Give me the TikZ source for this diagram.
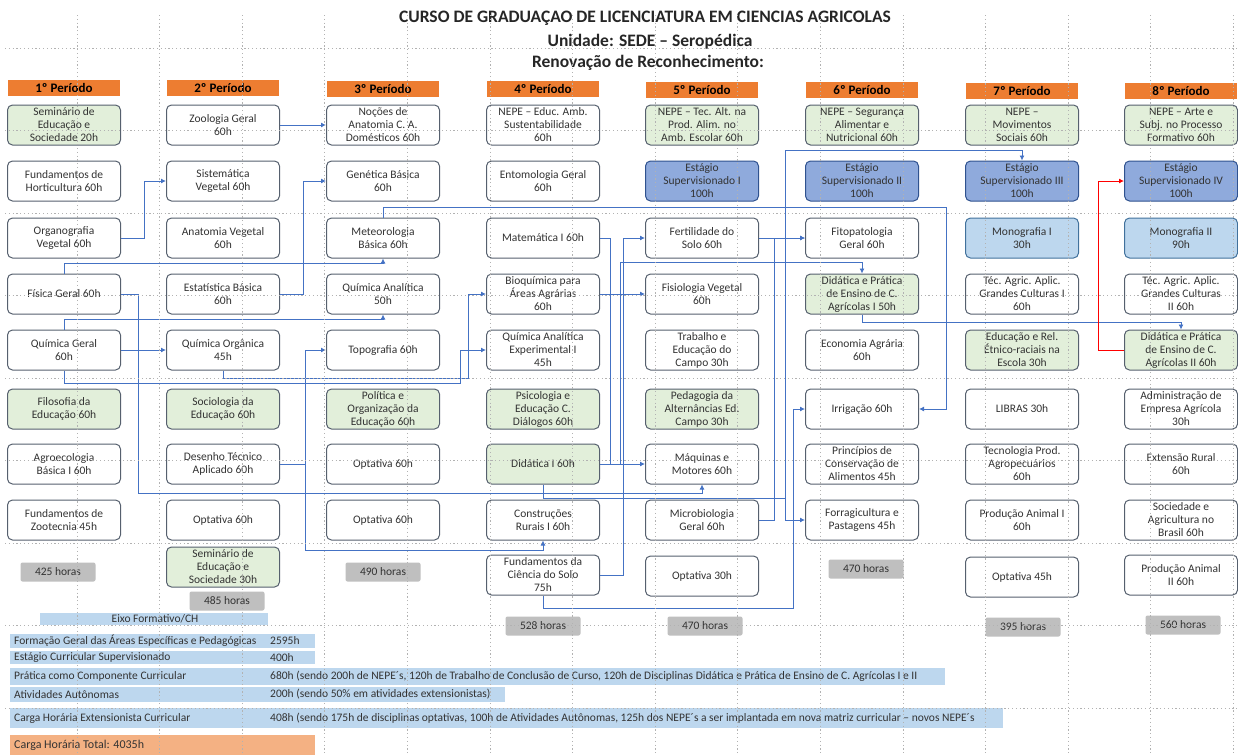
\documentclass[tikz,border=0pt]{standalone}
\usepackage{fontspec}
\setmainfont{Carlito}
\usetikzlibrary{arrows.meta}
\definecolor{laranja}{HTML}{ED7D31}
\definecolor{laranjaclaro}{HTML}{F4B183}
\definecolor{verdeclaro}{HTML}{E2EFDA}
\definecolor{borda}{HTML}{56606E}
\definecolor{azulest}{HTML}{8FAADC}
\definecolor{azulborda}{HTML}{2F528F}
\definecolor{azulclaro}{HTML}{BDD7EE}
\definecolor{azulmono}{HTML}{41719C}
\definecolor{azulfaixa}{HTML}{BDD7EE}
\definecolor{azullinha}{HTML}{4472C4}
\definecolor{cinza}{HTML}{BFBFBF}
\begin{document}
\begin{tikzpicture}[x=1pt,y=-1pt,
    caixa/.style={draw=borda, fill=white, line width=1pt, rounded corners=5pt, minimum width=113pt, minimum height=40pt, inner sep=1pt, align=center, text=black!80, font=\fontsize{11.5}{13}\selectfont},
    verde/.style={caixa, fill=verdeclaro},
    estagio/.style={caixa, fill=azulest, draw=azulborda},
    mono/.style={caixa, fill=azulclaro, draw=azulmono},
    periodo/.style={fill=laranja, minimum width=112pt, minimum height=16pt, inner sep=0pt, font=\bfseries\fontsize{13}{14}\selectfont},
    horas/.style={fill=cinza, rounded corners=2pt, minimum width=75pt, minimum height=19pt, inner sep=0pt, text=black!80, font=\fontsize{11.5}{12}\selectfont},
    titulo/.style={font=\bfseries\fontsize{17.5}{19}\selectfont, text=black!85},
    tabela/.style={anchor=west, inner sep=0pt, text=black!80, font=\fontsize{11.5}{12}\selectfont},
    seta/.style={azullinha, line width=0.9pt, -{Latex[length=5pt,width=5pt]}},
    grade/.style={gray!60, line width=0.7pt, dash pattern=on 1.2pt off 2.6pt}]
  \useasboundingbox (0,0) rectangle (1238,755);

  % Titulo
  \node[titulo] (tit1) at (645,18) {CURSO DE GRADUAÇAO DE LICENCIATURA EM CIENCIAS AGRICOLAS};
  \node[titulo] (tit2) at (650,42) {Unidade: SEDE – Seropédica};
  \node[titulo] (tit3) at (648,63) {Renovação de Reconhecimento:};

  % Periodos
  \node[periodo] (p1) at (64,88) {1º Período};
  \node[periodo] (p2) at (223,88) {2º Período};
  \node[periodo] (p3) at (383,89) {3º Período};
  \node[periodo] (p4) at (543,89) {4º Período};
  \node[periodo] (p5) at (702,90) {5º Período};
  \node[periodo] (p6) at (862,90) {6º Período};
  \node[periodo] (p7) at (1022,91) {7º Período};
  \node[periodo] (p8) at (1181,91) {8º Período};

  % 1º periodo
  \node[verde] (sem1) at (64,125) {Seminário de\\Educação e\\Sociedade 20h};
  \node[caixa] (horti) at (64,181) {Fundamentos de\\Horticultura 60h};
  \node[caixa] (organo) at (64,238) {Organografia\\Vegetal 60h};
  \node[caixa] (fisica) at (64,294) {Física Geral 60h};
  \node[caixa] (qgeral) at (64,350) {Química Geral\\60h};
  \node[verde] (filo) at (64,409) {Filosofia da\\Educação 60h};
  \node[caixa] (agroeco) at (64,464) {Agroecologia\\Básica I 60h};
  \node[caixa] (zootec) at (64,520) {Fundamentos de\\Zootecnia 45h};
  \node[horas] (h1) at (58,572) {425 horas};

  % 2º periodo
  \node[caixa] (zoo) at (223,125) {Zoologia Geral\\60h};
  \node[caixa] (sistem) at (223,181) {Sistemática\\Vegetal 60h};
  \node[caixa] (anatveg) at (223,238) {Anatomia Vegetal\\60h};
  \node[caixa] (estat) at (223,294) {Estatística Básica\\60h};
  \node[caixa] (qorg) at (223,350) {Química Orgânica\\45h};
  \node[verde] (socio) at (223,409) {Sociologia da\\Educação 60h};
  \node[caixa] (desenho) at (223,464) {Desenho Técnico\\Aplicado 60h};
  \node[caixa] (opt2) at (223,520) {Optativa 60h};
  \node[verde] (sem2) at (223,567) {Seminário de\\Educação e\\Sociedade 30h};
  \node[horas] (h2) at (227,601) {485 horas};

  % 3º periodo
  \node[caixa] (nocoes) at (383,125) {Noções de\\Anatomia C. A.\\Domésticos 60h};
  \node[caixa] (genet) at (383,181) {Genética Básica\\60h};
  \node[caixa] (meteo) at (383,238) {Meteorologia\\Básica 60h};
  \node[caixa] (qanal) at (383,294) {Química Analítica\\50h};
  \node[caixa] (topo) at (383,350) {Topografia 60h};
  \node[verde] (politica) at (383,409) {Política e\\Organização da\\Educação 60h};
  \node[caixa] (opt3a) at (383,464) {Optativa 60h};
  \node[caixa] (opt3b) at (383,520) {Optativa 60h};
  \node[horas] (h3) at (383,572) {490 horas};

  % 4º periodo
  \node[caixa] (nepe4) at (543,125) {NEPE – Educ. Amb.\\Sustentabilidade\\60h};
  \node[caixa] (entomo) at (543,181) {Entomologia Geral\\60h};
  \node[caixa] (mat) at (543,238) {Matemática I 60h};
  \node[caixa] (bioq) at (543,294) {Bioquímica para\\Áreas Agrárias\\60h};
  \node[caixa] (qae) at (543,350) {Química Analítica\\Experimental I\\45h};
  \node[verde] (psico) at (543,409) {Psicologia e\\Educação C.\\Diálogos 60h};
  \node[verde] (didat) at (543,464) {Didática I 60h};
  \node[caixa] (constr) at (543,520) {Construções\\Rurais I 60h};
  \node[caixa] (fundsolo) at (543,575) {Fundamentos da\\Ciência do Solo\\75h};
  \node[horas] (h4) at (543,626) {528 horas};

  % 5º periodo
  \node[verde] (nepe5) at (702,125) {NEPE – Tec. Alt. na\\Prod. Alim. no\\Amb. Escolar 60h};
  \node[estagio] (est1) at (702,181) {Estágio\\Supervisionado I\\100h};
  \node[caixa] (fert) at (702,238) {Fertilidade do\\Solo 60h};
  \node[caixa] (fisio) at (702,294) {Fisiologia Vegetal\\60h};
  \node[caixa] (trab) at (702,350) {Trabalho e\\Educação do\\Campo 30h};
  \node[verde] (pedag) at (702,409) {Pedagogia da\\Alternâncias Ed.\\Campo 30h};
  \node[caixa] (maq) at (702,464) {Máquinas e\\Motores 60h};
  \node[caixa] (micro) at (702,520) {Microbiologia\\Geral 60h};
  \node[caixa] (opt5) at (702,576) {Optativa 30h};
  \node[horas] (h5) at (705,626) {470 horas};

  % 6º periodo
  \node[verde] (nepe6) at (862,125) {NEPE – Segurança\\Alimentar e\\Nutricional 60h};
  \node[estagio] (est2) at (862,181) {Estágio\\Supervisionado II\\100h};
  \node[caixa] (fito) at (862,238) {Fitopatologia\\Geral 60h};
  \node[verde] (dpe1) at (862,294) {Didática e Prática\\de Ensino de C.\\Agrícolas I 50h};
  \node[caixa] (econ) at (862,350) {Economia Agrária\\60h};
  \node[caixa] (irrig) at (862,409) {Irrigação 60h};
  \node[caixa] (consalim) at (862,464) {Princípios de\\Conservação de\\Alimentos 45h};
  \node[caixa] (forrag) at (862,520) {Forragicultura e\\Pastagens 45h};
  \node[horas] (h6) at (866,569) {470 horas};

  % 7º periodo
  \node[verde] (nepe7) at (1022,125) {NEPE –\\Movimentos\\Sociais 60h};
  \node[estagio] (est3) at (1022,181) {Estágio\\Supervisionado III\\100h};
  \node[mono] (mono1) at (1022,238) {Monografia I\\30h};
  \node[caixa] (gc1) at (1022,294) {Téc. Agric. Aplic.\\Grandes Culturas I\\60h};
  \node[verde] (etnico) at (1022,350) {Educação e Rel.\\Étnico-raciais na\\Escola 30h};
  \node[caixa] (libras) at (1022,409) {LIBRAS 30h};
  \node[caixa] (tecprod) at (1022,464) {Tecnologia Prod.\\Agropecuários\\60h};
  \node[caixa] (prodan1) at (1022,520) {Produção Animal I\\60h};
  \node[caixa] (opt7) at (1022,577) {Optativa 45h};
  \node[horas] (h7) at (1023,627) {395 horas};

  % 8º periodo
  \node[verde] (nepe8) at (1181,125) {NEPE – Arte e\\Subj. no Processo\\Formativo 60h};
  \node[estagio] (est4) at (1181,181) {Estágio\\Supervisionado IV\\100h};
  \node[mono] (mono2) at (1181,238) {Monografia II\\90h};
  \node[caixa] (gc2) at (1181,294) {Téc. Agric. Aplic.\\Grandes Culturas\\II 60h};
  \node[verde] (dpe2) at (1181,350) {Didática e Prática\\de Ensino de C.\\Agrícolas II 60h};
  \node[caixa] (admin) at (1181,409) {Administração de\\Empresa Agrícola\\30h};
  \node[caixa] (extensao) at (1181,464) {Extensão Rural\\60h};
  \node[caixa] (socagr) at (1181,520) {Sociedade e\\Agricultura no\\Brasil 60h};
  \node[caixa] (prodan2) at (1181,575) {Produção Animal\\II 60h};
  \node[horas] (h8) at (1183,625) {560 horas};

  % Pre-requisitos
  \draw[seta] (zoo.east) -- (nocoes.west);
  \draw[seta] (organo.east) -- ++(23,0) |- (sistem.west);
  \draw[seta] (estat.east) -- ++(23,0) |- (genet.west);
  \draw[seta] (qgeral.east) -- (qorg.west);
  \draw[seta] (desenho.east) -- ++(25,0) |- (topo.west);
  \draw[seta] (desenho.east) -- ++(25,0) -- ++(0,86) -| (constr.south);
  \draw[seta] (fisica.north) -- ++(0,-10) -| (meteo.south);
  \draw[seta] (qgeral.north) -- ++(0,-10) -| (qanal.south);
  \draw[seta] (qorg.south) -- ++(0,8) -| ([xshift=-18pt]bioq.west) -- (bioq.west);
  \draw[seta] (qgeral.south) -- ++(0,13) -| ([xshift=-26pt]qae.west) -- (qae.west);
  \draw[seta] (fisica.east) -- ++(17,0) -- ++(0,199) -| (maq.south);
  \draw[seta] (meteo.north) -- ++(0,-10) -| ([xshift=27pt]irrig.east) -- (irrig.east);
  \draw[seta] (mat.east) -- ++(10,0) |- (maq.west);
  \draw[seta] (didat.east) -- ++(20,0) -- ++(0,-202) -| (dpe1.north);
  \draw[seta] (bioq.east) -- (fisio.west);
  \draw[seta] (fundsolo.east) -- ++(23,0) |- (fert.west);
  \draw[seta] (fert.east) -- (fito.west);
  \draw[seta] (micro.east) -- ++(15,0) |- (fito.west);
  \draw[seta] (didat.south) -- ++(0,14) -- ++(242,0) -- ++(0,-348) -| (est3.north);
  \draw[seta] (didat.south) -- ++(0,14) -- ++(242,0) |- (forrag.west);
  \draw[seta] (fundsolo.south) -- ++(0,13) -- ++(250,0) |- (irrig.west);
  \draw[seta] (dpe1.south) -- ++(0,8) -| (dpe2.north);
  \draw[seta, red] (dpe2.west) -- ++(-26,0) |- (est4.west);

  % Eixos formativos
  \fill[azulfaixa] (40,613) rectangle (268,625);
  \node[tabela, anchor=center] (eixo) at (155,619) {Eixo Formativo/CH};
  \fill[azulfaixa] (10,634) rectangle (315,648);
  \node[tabela] (form) at (14,641) {Formação Geral das Áreas Específicas e Pedagógicas};
  \node[tabela] (formh) at (270,641) {2595h};
  \fill[azulfaixa] (10,651) rectangle (315,664);
  \node[tabela] (estag) at (14,657.5) {Estágio Curricular Supervisionado};
  \node[tabela] (estagh) at (270,657.5) {400h};
  \fill[azulfaixa] (10,668) rectangle (945,685);
  \node[tabela] (prat) at (14,676.5) {Prática como Componente Curricular};
  \node[tabela] (prath) at (270,676.5) {680h (sendo 200h de NEPE´s, 120h de Trabalho de Conclusão de Curso, 120h de Disciplinas Didática e Prática de Ensino de C. Agrícolas I e II};
  \fill[azulfaixa] (10,687) rectangle (505,702);
  \node[tabela] (ativ) at (14,694.5) {Atividades Autônomas};
  \node[tabela] (ativh) at (270,694.5) {200h (sendo 50\% em atividades extensionistas)};
  \fill[azulfaixa] (10,708) rectangle (1003,728);
  \node[tabela] (ext) at (14,718) {Carga Horária Extensionista Curricular};
  \node[tabela] (exth) at (270,718) {408h (sendo 175h de disciplinas optativas, 100h de Atividades Autônomas, 125h dos NEPE´s a ser implantada em nova matriz curricular – novos NEPE´s};
  \fill[laranjaclaro] (10,735) rectangle (315,755);
  \node[tabela, font=\fontsize{12}{13}\selectfont] (total) at (14,745) {Carga Horária Total: 4035h};

  % Desenha o quadriculado
  \foreach \x in {77,159.6,...,1238} \draw[grade] (\x,15) -- (\x,755);
  \foreach \y in {48,130.5,...,755} \draw[grade] (5,\y) -- (1238,\y);
\end{tikzpicture}
\end{document}
